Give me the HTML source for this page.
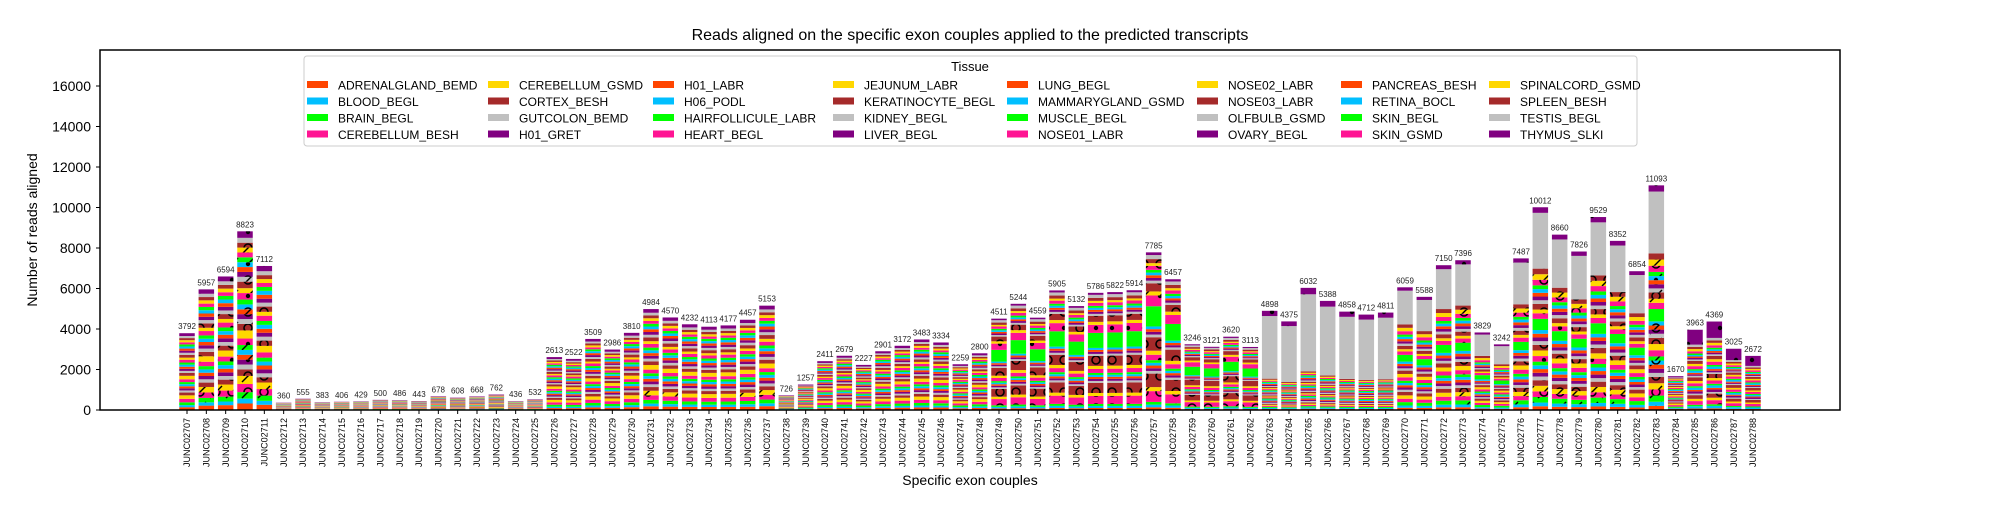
<!DOCTYPE html>
<html><head><meta charset="utf-8"><style>
body{margin:0;background:#fff;}
svg{font-family:"Liberation Sans","DejaVu Sans",sans-serif;}
</style></head><body>
<svg id="chart" width="2000" height="500">
<defs>
<pattern id="p-slash" patternUnits="userSpaceOnUse" width="16" height="16"><path d="M2,14 L14,2" stroke="#000" stroke-width="1.4"/></pattern>
<pattern id="p-dot" patternUnits="userSpaceOnUse" width="16" height="16"><circle cx="8" cy="8" r="2.2" fill="#000"/></pattern>
<pattern id="p-ring" patternUnits="userSpaceOnUse" width="16" height="16"><circle cx="8" cy="8" r="4" fill="none" stroke="#000" stroke-width="1.6"/></pattern>
</defs>
<text x="970" y="40" text-anchor="middle" font-size="16">Reads aligned on the specific exon couples applied to the predicted transcripts</text>
<g id="bars"></g>
<g id="axes"></g>
<g id="legend"></g>
</svg>
<script>
const tissues=["ADRENALGLAND_BEMD","BLOOD_BEGL","BRAIN_BEGL","CEREBELLUM_BESH","CEREBELLUM_GSMD","CORTEX_BESH","GUTCOLON_BEMD","H01_GRET","H01_LABR","H06_PODL","HAIRFOLLICULE_LABR","HEART_BEGL","JEJUNUM_LABR","KERATINOCYTE_BEGL","KIDNEY_BEGL","LIVER_BEGL","LUNG_BEGL","MAMMARYGLAND_GSMD","MUSCLE_BEGL","NOSE01_LABR","NOSE02_LABR","NOSE03_LABR","OLFBULB_GSMD","OVARY_BEGL","PANCREAS_BESH","RETINA_BOCL","SKIN_BEGL","SKIN_GSMD","SPINALCORD_GSMD","SPLEEN_BESH","TESTIS_BEGL","THYMUS_SLKI"];
const totals=[3792,5957,6594,8823,7112,360,555,383,406,429,500,486,443,678,608,668,762,436,532,2613,2522,3509,2986,3810,4984,4570,4232,4113,4177,4457,5153,726,1257,2411,2679,2227,2901,3172,3483,3334,2259,2800,4511,5244,4559,5905,5132,5786,5822,5914,7785,6457,3246,3121,3620,3113,4898,4375,6032,5388,4858,4712,4811,6059,5588,7150,7396,3829,3242,7487,10012,8660,7826,9529,8352,6854,11093,1670,3963,4369,3025,2672];
const profileOfBar=["A","A","A","A","A","A","A","A","A","A","A","A","A","A","A","A","A","A","A","A","A","A","A","A","A","A","A","A","A","A","A","A","A","A","A","A","A","A","A","A","A","A","B","B","B","B","B","B","B","B","B","B","B","B","B","B","C","C","C","C","C","C","C","D","D","D","D","D","D","D","D","D","D","D","D","D","D","A","E","E","E","E"];
const profileA=[4,3,4,5,5,4,3,3,3,3,3,4,5,4,3,3,3,3,3,4,3,4,3,3,3,3,3,3,3,3,3,4];
const profileB=[2,2,2,8,3,10,2,2,2,2,2,4,3,10,2,2,2,2,15,8,3,6,2,2,2,2,2,3,2,3,3,2];
const profileC=[1,1,1,1,1,1,1,1,1,1,1,1,1,1,1,1,1,1,1,1,1,1,1,1,1,1,1,1,1,1,60,5];
const profileD=[2,2,3,3,3,3,2,2,2,2,2,3,3,3,2,2,2,2,6,3,2,3,2,2,2,2,2,3,3,3,30,3];
const profileE=[2,3,2,5,3,5,2,3,2,3,2,4,3,5,2,2,2,3,2,4,3,4,2,2,2,2,2,3,3,3,3,20];
const profiles={A:profileA,B:profileB,C:profileC,D:profileD,E:profileE};
const yTicks=[0,2000,4000,6000,8000,10000,12000,14000,16000];

const colors=["#ff4500","#00bfff","#00ff00","#ff1493","#ffd700","#a52a2a","#c0c0c0","#800080"];
const pats=[null,"p-dot","p-slash","p-ring","p-slash","p-ring",null,"p-dot",
"p-slash","p-ring","p-slash","p-dot",null,"p-ring","p-slash","p-ring",
"p-slash","p-ring",null,"p-dot","p-slash","p-ring","p-slash","p-ring",
null,"p-dot","p-slash","p-ring","p-slash","p-ring",null,"p-dot"];
const NS="http://www.w3.org/2000/svg";
const L=100,R=1840,T=50,B=410;
const y0=410,yPer=(410-86)/16000;
function yS(v){return y0-v*yPer;}
const x0=187,step=(1753-187)/81,bw=15.5;
function xS(i){return x0+i*step;}
function mk(tag,attrs,parent){const e=document.createElementNS(NS,tag);for(const k in attrs)e.setAttribute(k,attrs[k]);parent.appendChild(e);return e;}
const gb=document.getElementById('bars');
totals.forEach((tot,i)=>{
  const prof=profiles[profileOfBar[i]];
  const sum=prof.reduce((a,b)=>a+b,0);
  let acc=0;
  const cx=xS(i);
  prof.forEach((w,t)=>{
    const v=tot*w/sum;
    const r=mk('rect',{x:cx-bw/2,y:yS(acc+v),width:bw,height:v*yPer,fill:colors[t%8]},gb);
    
    
    if(pats[t]&&v*yPer>4){const p=mk('rect',{x:cx-bw/2,y:yS(acc+v),width:bw,height:v*yPer,fill:'url(#'+pats[t]+')'},gb);
      
      }
    acc+=v;
  });
  const lab=mk('text',{x:cx,y:yS(tot)-4,'text-anchor':'middle','font-size':'8',fill:'#222'},gb);
  lab.textContent=tot;
  
  
  const tk=mk('line',{x1:cx,x2:cx,y1:B,y2:B+4,stroke:'#000'},gb);
  
  
  const xl=mk('text',{x:0,y:0,'text-anchor':'end','font-size':'9',transform:`translate(${cx+3.2},${B+8}) rotate(-90)`},gb);
  xl.textContent='JUNC0'+(2707+i);
  
  
});
const ga=document.getElementById('axes');
const fr=mk('rect',{x:L,y:T,width:R-L,height:B-T,fill:'none',stroke:'#000','stroke-width':'1.5'},ga);


yTicks.forEach(v=>{
  const tk=mk('line',{x1:L-4,x2:L,y1:yS(v),y2:yS(v),stroke:'#000'},ga);
  
  
  const t=mk('text',{x:L-9,y:yS(v)+5,'text-anchor':'end','font-size':'14'},ga);
  t.textContent=v;
  
  
});
const yt=mk('text',{x:0,y:0,'text-anchor':'middle','font-size':'14',transform:'translate(37,230) rotate(-90)'},ga);
yt.textContent='Number of reads aligned';


const xt=mk('text',{x:970,y:485,'text-anchor':'middle','font-size':'14'},ga);
xt.textContent='Specific exon couples';


const gl=document.getElementById('legend');
const lb=mk('rect',{x:304,y:56,width:1333,height:90,fill:'#fff',stroke:'#ccc',rx:3},gl);


const lt=mk('text',{x:970,y:71,'text-anchor':'middle','font-size':'13'},gl);
lt.textContent='Tissue';


const colX=[307,488,653,833,1007,1197,1341,1489];
const rowY=[85,101.5,118,134.5];
tissues.forEach((name,t)=>{
  const c=Math.floor(t/4),r=t%4;
  const g=mk('g',{},gl);
  
  
  mk('rect',{x:colX[c],y:rowY[r]-4,width:21,height:7,fill:colors[t%8]},g);
  const tx=mk('text',{x:colX[c]+31,y:rowY[r]+4.5,'font-size':'12'},g);
  tx.textContent=name;
});
</script>
</body></html>
